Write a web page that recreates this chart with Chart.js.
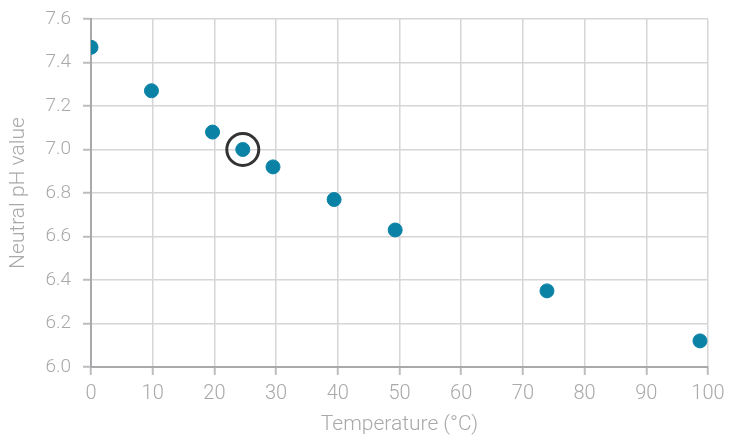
<!DOCTYPE html>
<html lang="en">
<head>
    <meta charset="UTF-8">
    <script src="https://cdn.jsdelivr.net/npm/chart.js"></script>
    <title>Neutral pH vs temperature</title>
    <style>
        html, body { margin: 0; padding: 0; background: #fff; }
        .container { width: 729px; height: 437px; }
    </style>
</head>
<body>
    <div class="container">
        <canvas id="mychart" width="729" height="437"></canvas>
    </div>

    <script>
        // temperature (°C) and neutral pH readings
        let temps = [0, 9.8, 19.7, 29.5, 39.4, 49.3, 73.9, 98.7];
        let phValues = [7.47, 7.27, 7.08, 6.92, 6.77, 6.63, 6.35, 6.12];
        // the 25 °C point, drawn with a ring around it
        let refTemp = [24.6];
        let refPh = [7.00];

        let xTicks = [0, 10, 20, 30, 40, 50, 60, 70, 80, 90, 100];
        let yTicks = [6.0, 6.2, 6.4, 6.6, 6.8, 7.0, 7.2, 7.4, 7.6];

        let grey = '#a9a9ab';
        let titleFont = { family: 'Roboto', weight: 300, size: 21 };

        let points = temps.map((t, i) => ({ x: t, y: phValues[i] }));
        let refPoints = refTemp.map((t, i) => ({ x: t, y: refPh[i] }));

        let ctx = document.getElementById("mychart").getContext('2d');
        let chart = new Chart(ctx, {
            type: 'scatter',
            data: {
                datasets: [
                    {
                        data: refPoints,
                        pointRadius: 16,
                        pointBackgroundColor: 'rgba(0,0,0,0)',
                        pointBorderColor: '#333333',
                        pointBorderWidth: 3
                    },
                    {
                        data: points.concat(refPoints),
                        pointRadius: 7,
                        pointBackgroundColor: '#0a82a6',
                        pointBorderColor: '#0a82a6',
                        pointBorderWidth: 1
                    }
                ]
            },
            options: {
                responsive: false,
                animation: false,
                layout: { padding: { top: 17, right: 21, left: 0, bottom: 0 } },
                plugins: {
                    legend: { display: false },
                    tooltip: { enabled: false }
                },
                scales: {
                    x: {
                        type: 'linear',
                        min: 0,
                        max: 100,
                        afterBuildTicks: s => { s.ticks = xTicks.map(v => ({ value: v })); },
                        afterFit: s => { s.height = 70; s.paddingLeft = 0; s.paddingRight = 0; },
                        grid: { color: '#d6d6d8', lineWidth: 1.5, tickLength: 8, tickColor: '#bdbdc0', tickWidth: 2 },
                        border: { color: grey, width: 2 },
                        ticks: { color: grey, font: { family: 'Roboto', weight: 300, size: 20 }, padding: 7, maxRotation: 0 },
                        title: { display: true, text: 'Temperature (°C)', color: grey, font: titleFont, padding: { top: 0, bottom: 0 } }
                    },
                    y: {
                        min: 6.0,
                        max: 7.6,
                        afterBuildTicks: s => { s.ticks = yTicks.map(v => ({ value: v })); },
                        afterFit: s => { s.width = 91; s.paddingTop = 0; s.paddingBottom = 0; },
                        grid: { color: '#d6d6d8', lineWidth: 1.5, tickLength: 8, tickColor: '#bdbdc0', tickWidth: 2 },
                        border: { color: grey, width: 2 },
                        ticks: { color: grey, font: { family: 'Roboto', weight: 300, size: 19 }, padding: 12, callback: v => v.toFixed(1) },
                        title: { display: true, text: 'Neutral pH value', color: grey, font: titleFont, padding: { top: 6, bottom: 4 } }
                    }
                }
            }
        });
    </script>
</body>
</html>
